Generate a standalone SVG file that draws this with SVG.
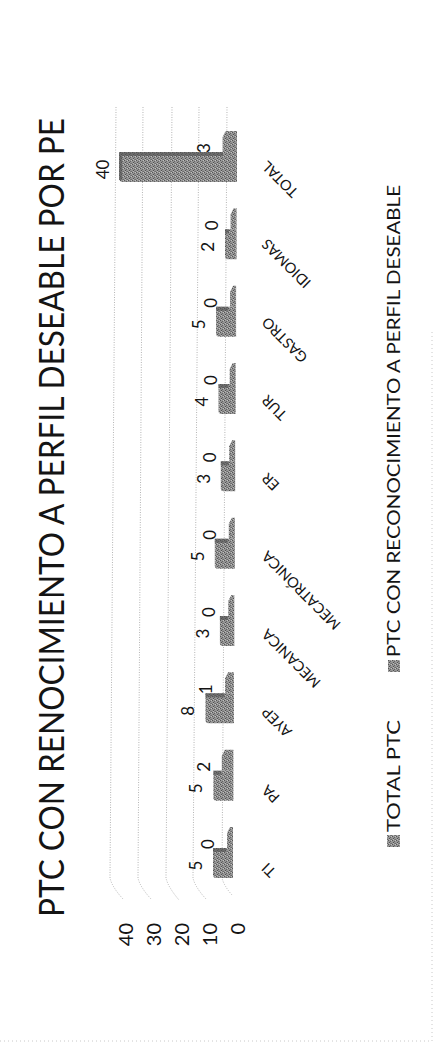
<svg xmlns="http://www.w3.org/2000/svg" width="435" height="1047" viewBox="0 0 435 1047">
<defs>
<pattern id="st" width="4" height="4" patternUnits="userSpaceOnUse">
<rect width="4" height="4" fill="#959595"/>
<rect x="0" y="0" width="1" height="1" fill="#555"/>
<rect x="2" y="1" width="1" height="1" fill="#646464"/>
<rect x="1" y="2" width="1" height="1" fill="#505050"/>
<rect x="3" y="3" width="1" height="1" fill="#6a6a6a"/>
<rect x="3" y="0" width="1" height="1" fill="#c0c0c0"/>
<rect x="1" y="3" width="1" height="1" fill="#b8b8b8"/>
<rect x="2" y="3" width="1" height="1" fill="#7a7a7a"/>
</pattern>
<style>
text{font-family:Lato,"Open Sans","Liberation Sans",sans-serif;fill:#141414}
.grid{fill:none;stroke:#b4b4b4;stroke-width:1;stroke-dasharray:1 1.5}
.border{fill:none;stroke:#c8c8c8;stroke-width:1;stroke-dasharray:1 3}
.s1{fill:url(#st)}
.s2{fill:url(#st)}
.edge{fill:#505050;opacity:.6}
.ax{font-size:20px}
.dl{font-size:17px}
.cat{font-size:14.5px}
.leg{font-size:18px}
</style>
</defs>

<g id="border">
<path class="border" d="M0 1041 H432 V330"/>
</g>

<g id="title">
<text transform="translate(64,917) rotate(-90)" font-size="34" textLength="799" lengthAdjust="spacingAndGlyphs">PTC CON RENOCIMIENTO A PERFIL DESEABLE POR PE</text>
</g>

<g id="gridlines">
<path class="grid" d="M116 107 L110 878 Q112 887 123 899"/>
<path class="grid" d="M143 107 L138 878 Q140 887 151 899"/>
<path class="grid" d="M172 107 L166 878 Q168 887 179 900"/>
<path class="grid" d="M199 107 L193 878 Q195 887 206 899"/>
<path class="grid" d="M227 107 L222 878 Q224 886 232 895"/>
</g>

<g id="axis-labels" class="ax">
<text transform="translate(133,923) rotate(-90)" text-anchor="end">40</text>
<text transform="translate(161,923) rotate(-90)" text-anchor="end">30</text>
<text transform="translate(189,923) rotate(-90)" text-anchor="end">20</text>
<text transform="translate(217,923) rotate(-90)" text-anchor="end">10</text>
<text transform="translate(245,923) rotate(-90)" text-anchor="end">0</text>
</g>

<g id="bars">
<g id="bar-total">
<polygon class="s2" points="225.6,131 237,131 237,152 222.6,152 222.6,137"/>
<path class="s1" d="M119 152 H237 V182 H123 Q119 182 119 178 Z"/>
<rect class="edge" x="119" y="152" width="104" height="4"/>
<rect class="edge" x="119" y="156" width="3" height="24"/>
</g>
<g id="bar-idiomas">
<polygon class="s2" points="233.6,208.3 236.6,208.3 236.6,229.3 230.6,229.3 230.6,214.3"/>
<path class="s1" d="M225 229.3 H236.6 V259.3 H228 Q225 259.3 225 256.3 Z"/>
<rect class="edge" x="225" y="229.3" width="4" height="4"/>
</g>
<g id="bar-gastro">
<polygon class="s2" points="233.1,285.7 236.1,285.7 236.1,306.7 230.1,306.7 230.1,291.7"/>
<path class="s1" d="M216.1 306.7 H236.1 V336.7 H219.1 Q216.1 336.7 216.1 333.7 Z"/>
<rect class="edge" x="216.1" y="306.7" width="12" height="4"/>
</g>
<g id="bar-tur">
<polygon class="s2" points="232.7,363 235.7,363 235.7,384 229.7,384 229.7,369"/>
<path class="s1" d="M218.5 384 H235.7 V414 H221.5 Q218.5 414 218.5 411 Z"/>
<rect class="edge" x="218.5" y="384" width="10" height="4"/>
</g>
<g id="bar-er">
<polygon class="s2" points="232.2,440.3 235.2,440.3 235.2,461.3 229.2,461.3 229.2,446.3"/>
<path class="s1" d="M220.8 461.3 H235.2 V491.3 H223.8 Q220.8 491.3 220.8 488.3 Z"/>
<rect class="edge" x="220.8" y="461.3" width="8" height="4"/>
</g>
<g id="bar-mecatronica">
<polygon class="s2" points="231.8,517.7 234.8,517.7 234.8,538.7 228.8,538.7 228.8,523.7"/>
<path class="s1" d="M214.8 538.7 H234.8 V568.7 H217.8 Q214.8 568.7 214.8 565.7 Z"/>
<rect class="edge" x="214.8" y="538.7" width="13" height="4"/>
</g>
<g id="bar-mecanica">
<polygon class="s2" points="231.3,595 234.3,595 234.3,616 228.3,616 228.3,601"/>
<path class="s1" d="M219.9 616 H234.3 V646 H222.9 Q219.9 646 219.9 643 Z"/>
<rect class="edge" x="219.9" y="616" width="8" height="4"/>
</g>
<g id="bar-ayep">
<polygon class="s2" points="228.1,672.3 233.9,672.3 233.9,693.3 225.1,693.3 225.1,678.3"/>
<path class="s1" d="M205.5 693.3 H233.9 V723.3 H208.5 Q205.5 723.3 205.5 720.3 Z"/>
<rect class="edge" x="205.5" y="693.3" width="19" height="4"/>
</g>
<g id="bar-pa">
<polygon class="s2" points="224.8,749.7 233.4,749.7 233.4,770.7 221.8,770.7 221.8,755.7"/>
<path class="s1" d="M213.4 770.7 H233.4 V800.7 H216.4 Q213.4 800.7 213.4 797.7 Z"/>
<rect class="edge" x="213.4" y="770.7" width="8" height="4"/>
</g>
<g id="bar-ti">
<polygon class="s2" points="230,827 233,827 233,848 227,848 227,833"/>
<path class="s1" d="M213 848 H233 V878 H216 Q213 878 213 875 Z"/>
<rect class="edge" x="213" y="848" width="13" height="4"/>
</g>
</g>

<g id="data-labels" class="dl" text-anchor="middle">
<text transform="translate(109,169.5) rotate(-90)">40</text>
<text transform="translate(210,148) rotate(-90)">3</text>
<text transform="translate(214,246.8) rotate(-90)">2</text>
<text transform="translate(217.6,225.3) rotate(-90)">0</text>
<text transform="translate(205,324.2) rotate(-90)">5</text>
<text transform="translate(217.1,302.7) rotate(-90)">0</text>
<text transform="translate(207.5,401.5) rotate(-90)">4</text>
<text transform="translate(216.7,380) rotate(-90)">0</text>
<text transform="translate(209.8,478.8) rotate(-90)">3</text>
<text transform="translate(216.2,457.3) rotate(-90)">0</text>
<text transform="translate(203.8,556.2) rotate(-90)">5</text>
<text transform="translate(215.8,534.7) rotate(-90)">0</text>
<text transform="translate(208.9,633.5) rotate(-90)">3</text>
<text transform="translate(215.3,612) rotate(-90)">0</text>
<text transform="translate(194,710.8) rotate(-90)">8</text>
<text transform="translate(212,689.3) rotate(-90)">1</text>
<text transform="translate(202.4,788.2) rotate(-90)">5</text>
<text transform="translate(209.8,766.7) rotate(-90)">2</text>
<text transform="translate(202,865.5) rotate(-90)">5</text>
<text transform="translate(214,844) rotate(-90)">0</text>
</g>

<g id="category-labels" class="cat" text-anchor="end">
<text transform="translate(268,160) rotate(-135)">TOTAL</text>
<text transform="translate(268,238) rotate(-135)">IDIOMAS</text>
<text transform="translate(268,316) rotate(-135)">GASTRO</text>
<text transform="translate(268,394) rotate(-135)">TUR</text>
<text transform="translate(268,472) rotate(-135)">ER</text>
<text transform="translate(268,550) rotate(-135)">MECATRÓNICA</text>
<text transform="translate(268,628) rotate(-135)">MECANICA</text>
<text transform="translate(268,706) rotate(-135)">AYEP</text>
<text transform="translate(268,784) rotate(-135)">PA</text>
<text transform="translate(268,862) rotate(-135)">TI</text>
</g>

<g id="legend" class="leg">
<rect class="s1" x="387" y="835" width="13" height="12"/>
<text transform="translate(400,832) rotate(-90)" textLength="112" lengthAdjust="spacingAndGlyphs">TOTAL PTC</text>
<rect class="s2" x="388" y="660" width="12" height="12"/>
<text transform="translate(400,657) rotate(-90)" textLength="472" lengthAdjust="spacingAndGlyphs">PTC CON RECONOCIMIENTO A PERFIL DESEABLE</text>
</g>
</svg>
